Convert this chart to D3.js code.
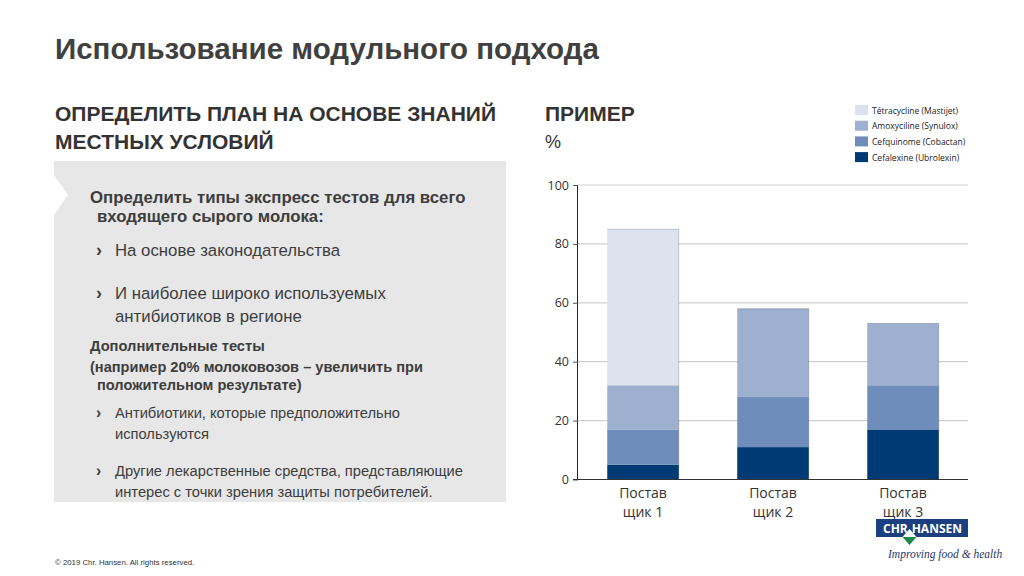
<!DOCTYPE html>
<html>
<head>
<meta charset="utf-8">
<script src="https://cdn.jsdelivr.net/npm/d3@7"></script>
<style>
  body { margin: 0; background: #fff; }
  svg { display: block; font-family: "Liberation Sans", Arial, sans-serif; }
</style>
</head>
<body>
<svg id="slide"></svg>
<script>
const size = { width: 1024, height: 576 };
const plot = { left: 578, right: 968, top: 185, bottom: 479.5 };

// chart data
const suppliers = ["Постав щик 1", "Постав щик 2", "Постав щик 3"];
const supplierLines = [["Постав", "щик 1"], ["Постав", "щик 2"], ["Постав", "щик 3"]];
const drugs = ["Cefalexine (Ubrolexin)", "Cefquinome (Cobactan)", "Amoxyciline (Synulox)", "Tétracycline (Mastijet)"];
const cefalexine = [5, 11, 17];
const cefquinome = [12, 17, 15];
const amoxyciline = [15, 30, 21];
const tetracycline = [53, 0, 0];
const yTicks = [0, 20, 40, 60, 80, 100];
const drugColors = ["#003a75", "#6f8dbb", "#9db0cf", "#dce3ee"];

// left panel text
const mainPoints = [
  ["На основе законодательства"],
  ["И наиболее широко используемых", "антибиотиков в регионе"]
];
const extraPoints = [
  ["Антибиотики, которые предположительно", "используются"],
  ["Другие лекарственные средства, представляющие", "интерес с точки зрения защиты потребителей."]
];

const svg = d3.select("#slide")
  .attr("width", size.width)
  .attr("height", size.height);

const addText = (x, y, text, fontSize, weight, fill) =>
  svg.append("text")
    .attr("x", x)
    .attr("y", y)
    .attr("font-size", fontSize)
    .attr("font-weight", weight || "normal")
    .attr("fill", fill || "#3d3d3d")
    .text(text);

// headings
addText(55, 59, "Использование модульного подхода", 29.5, "bold", "#404040");
addText(55, 121, "ОПРЕДЕЛИТЬ ПЛАН НА ОСНОВЕ ЗНАНИЙ", 21, "bold", "#333");
addText(55, 149, "МЕСТНЫХ УСЛОВИЙ", 21, "bold", "#333");
addText(545, 121, "ПРИМЕР", 21, "bold", "#333");
addText(545, 148, "%", 18, "normal", "#333");

// grey panel with notch
svg.append("rect")
  .attr("x", 54).attr("y", 161)
  .attr("width", 452).attr("height", 341)
  .attr("fill", "#e7e7e7");
svg.append("path")
  .attr("d", "M54,175 L68,195 L54,215 Z")
  .attr("fill", "#fff");

addText(90, 203, "Определить типы экспресс тестов для всего", 16.8, "bold");
addText(97, 222, "входящего сырого молока:", 16.8, "bold");

const bullets = (points, startY, gaps, lineH, fontSize) => {
  let y = startY;
  points.forEach((lines, i) => {
    addText(96, y, "›", fontSize + 1, "bold");
    lines.forEach((line, j) => addText(115, y + j * lineH, line, fontSize));
    y += gaps[i];
  });
};
bullets(mainPoints, 256, [43, 0], 22.5, 16.8);

addText(90, 351, "Дополнительные тесты", 14.7, "bold");
addText(90, 372, "(например 20% молоковозов – увеличить при", 14.6, "bold");
addText(97, 390, "положительном результате)", 14.6, "bold");
bullets(extraPoints, 418, [58, 0], 20.5, 14.7);

// footer
addText(55, 565, "© 2019 Chr. Hansen. All rights reserved.", 7.8, "normal", "#333");

// chart
const x = d3.scaleBand()
  .domain(suppliers)
  .range([plot.left, plot.right])
  .paddingInner(0.45)
  .paddingOuter(0.225);

const y = d3.scaleLinear()
  .domain([0, 100])
  .range([plot.bottom, plot.top]);

const chart = svg.append("g").attr("class", "chart");

chart.append("g")
  .attr("class", "grid")
  .selectAll("line")
  .data(yTicks.filter(t => t > 0))
  .join("line")
  .attr("x1", plot.left).attr("x2", plot.right)
  .attr("y1", d => y(d)).attr("y2", d => y(d))
  .attr("stroke", "#cfcfcf")
  .attr("stroke-width", 1.2);

const table = suppliers.map((s, i) => ({
  supplier: s,
  [drugs[0]]: cefalexine[i],
  [drugs[1]]: cefquinome[i],
  [drugs[2]]: amoxyciline[i],
  [drugs[3]]: tetracycline[i]
}));

const series = d3.stack().keys(drugs)(table);

chart.append("g")
  .attr("class", "bars")
  .selectAll("g")
  .data(series)
  .join("g")
  .attr("fill", (d, i) => drugColors[i])
  .selectAll("rect")
  .data(d => d)
  .join("rect")
  .attr("x", d => x(d.data.supplier))
  .attr("y", d => y(d[1]))
  .attr("width", x.bandwidth())
  .attr("height", d => y(d[0]) - y(d[1]));

// thin shade on top and right of each stack
const topSeries = series[series.length - 1];
chart.append("g")
  .selectAll("path")
  .data(topSeries)
  .join("path")
  .attr("d", d => {
    const x0 = x(d.data.supplier), x1 = x0 + x.bandwidth();
    return `M${x0},${y(d[1])} L${x1},${y(d[1])} L${x1},${y(0)}`;
  })
  .attr("fill", "none")
  .attr("stroke", "#000")
  .attr("stroke-opacity", 0.18)
  .attr("stroke-width", 1);

const yAxis = d3.axisLeft(y)
  .tickValues(yTicks)
  .tickSize(5)
  .tickPadding(4);

const yg = chart.append("g")
  .attr("transform", `translate(${plot.left},0)`)
  .call(yAxis);
yg.select(".domain").attr("stroke", "#222").attr("d", `M-0.5,${plot.top}V${plot.bottom}`);
yg.selectAll(".tick line").attr("stroke", "#555");
yg.selectAll(".tick text")
  .attr("font-size", 12.5)
  .attr("font-family", "'Open Sans', sans-serif")
  .attr("fill", "#333");

chart.append("line")
  .attr("x1", plot.left - 5).attr("x2", plot.right)
  .attr("y1", plot.bottom).attr("y2", plot.bottom)
  .attr("stroke", "#333")
  .attr("stroke-width", 1.2);

chart.append("g")
  .selectAll("text")
  .data(suppliers)
  .join("text")
  .attr("x", d => x(d) + x.bandwidth() / 2)
  .attr("y", 498)
  .attr("text-anchor", "middle")
  .attr("font-size", 14)
  .attr("font-family", "'Open Sans', sans-serif")
  .attr("fill", "#333")
  .selectAll("tspan")
  .data((d, i) => supplierLines[i])
  .join("tspan")
  .attr("x", function () { return this.parentNode.getAttribute("x"); })
  .attr("dy", (d, i) => (i === 0 ? 0 : 18.5))
  .text(d => d);

// legend, top entry first
const legend = svg.append("g")
  .attr("class", "legend")
  .attr("transform", "translate(855,105)");

const legendItems = legend.selectAll("g")
  .data(drugs.slice().reverse())
  .join("g")
  .attr("transform", (d, i) => `translate(0,${i * 15.7})`);

legendItems.append("rect")
  .attr("width", 13).attr("height", 10)
  .attr("fill", (d, i) => drugColors[drugColors.length - 1 - i]);

legendItems.append("text")
  .attr("x", 17).attr("y", 8.5)
  .attr("font-size", 8.5)
  .attr("font-family", "'Open Sans', sans-serif")
  .attr("fill", "#222")
  .text(d => d);

// logo
const logo = svg.append("g").attr("class", "logo");
logo.append("rect")
  .attr("x", 876).attr("y", 519)
  .attr("width", 92).attr("height", 18)
  .attr("fill", "#1c3f7f");
logo.append("text")
  .attr("x", 883).attr("y", 533)
  .attr("font-size", 12)
  .attr("font-weight", "bold")
  .attr("font-family", "'Open Sans', sans-serif")
  .attr("fill", "#fff")
  .text("CHR");
logo.append("text")
  .attr("x", 962).attr("y", 533)
  .attr("text-anchor", "end")
  .attr("font-size", 12)
  .attr("font-weight", "bold")
  .attr("font-family", "'Open Sans', sans-serif")
  .attr("fill", "#fff")
  .text("HANSEN");
logo.append("path")
  .attr("d", "M909.5,529 L916.5,537 L909.5,545 L902.5,537 Z")
  .attr("fill", "#1b8a4c");
logo.append("path")
  .attr("d", "M909.5,529 L916.5,537 L902.5,537 Z")
  .attr("fill", "#fff");
logo.append("text")
  .attr("x", 888).attr("y", 558)
  .attr("font-size", 11.5)
  .attr("font-style", "italic")
  .attr("font-family", "'Liberation Serif', serif")
  .attr("fill", "#2b3766")
  .text("Improving food & health");
</script>
</body>
</html>
